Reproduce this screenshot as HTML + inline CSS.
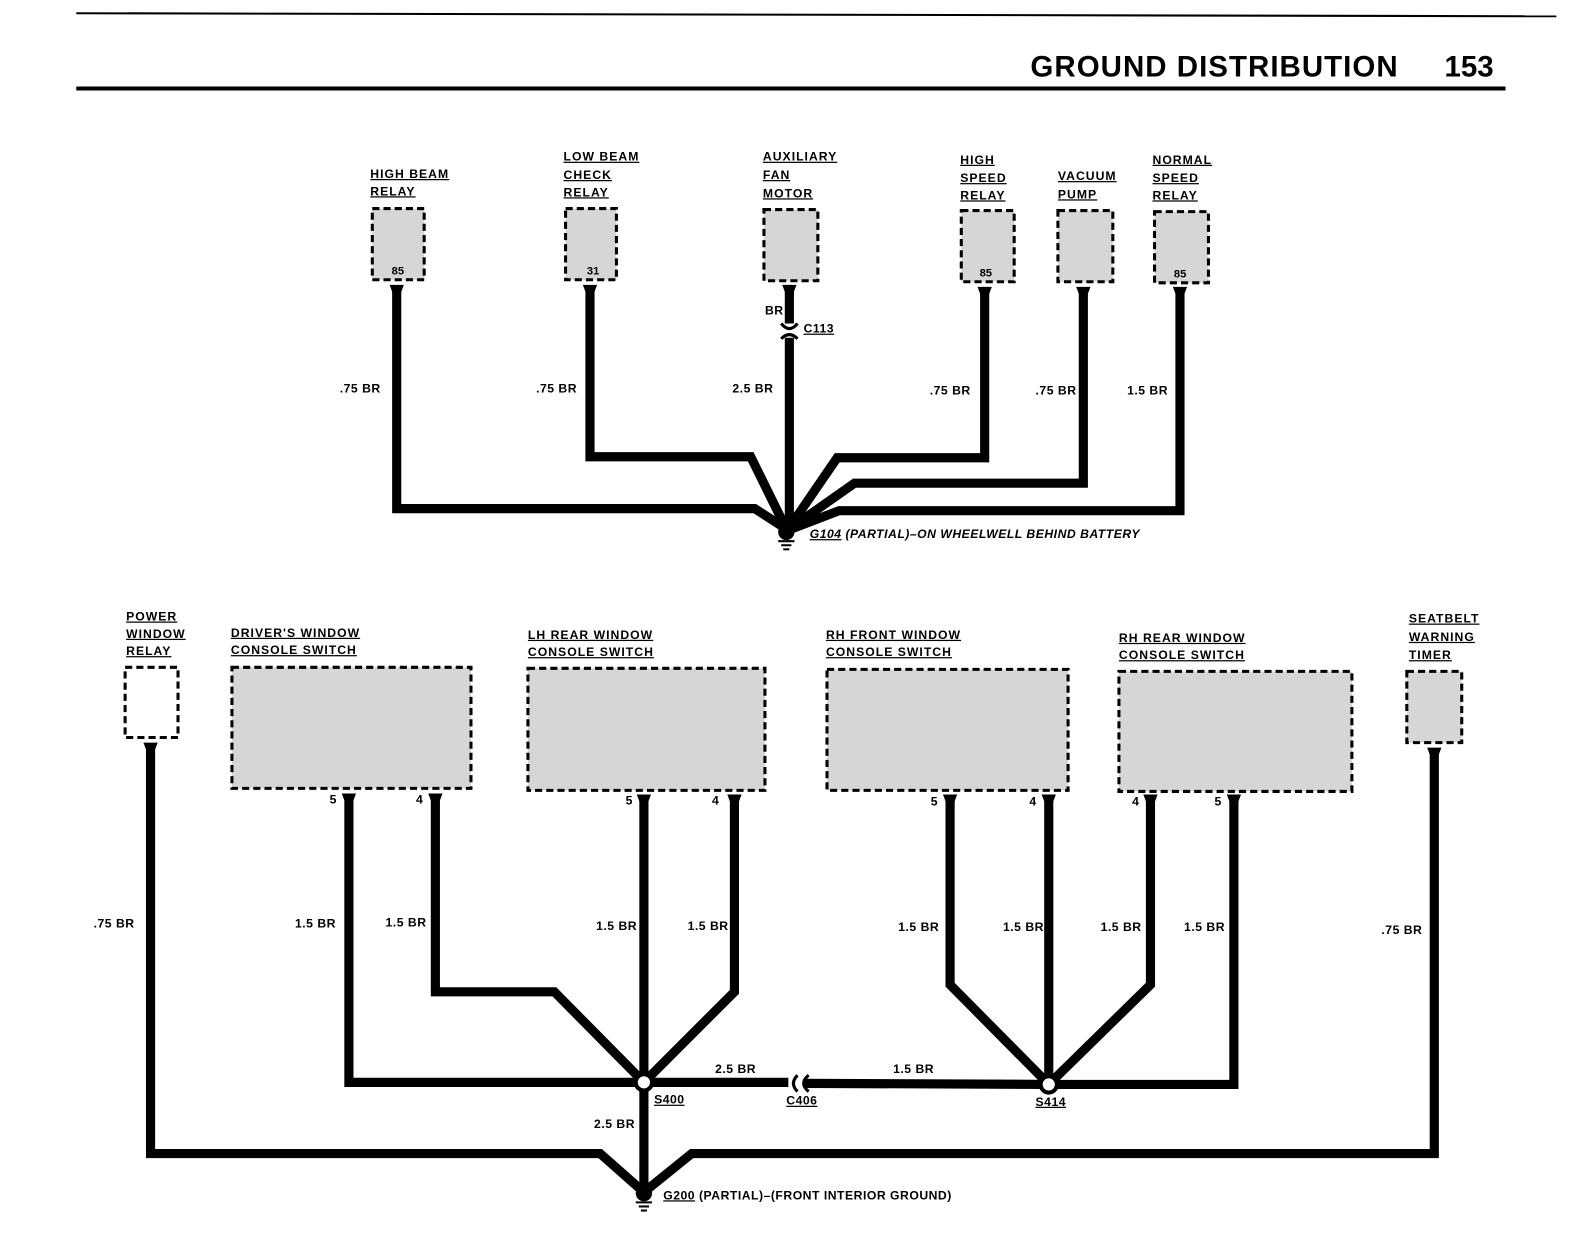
<!DOCTYPE html>
<html><head><meta charset="utf-8"><style>
html,body{margin:0;padding:0;background:#fff;}
svg{display:block;}
text{font-family:"Liberation Sans",sans-serif;font-weight:bold;fill:#000;}
.l{font-size:12px;letter-spacing:1px;text-decoration:underline;}
.w{font-size:12px;letter-spacing:0.5px;}
.p{font-size:11px;}
</style></head><body>
<svg width="1595" height="1238" viewBox="0 0 1568 1217" preserveAspectRatio="none" xmlns="http://www.w3.org/2000/svg">
<line x1="75" y1="13" x2="1530" y2="16" stroke="#000" stroke-width="2"/>
<line x1="75" y1="87" x2="1480" y2="87" stroke="#000" stroke-width="4"/>
<text x="1013" y="75" style="font-size:29px;letter-spacing:1px">GROUND DISTRIBUTION</text>
<text x="1420" y="75" style="font-size:29px">153</text>

<g fill="#d6d6d6" stroke="#000" stroke-width="3" stroke-dasharray="7,4">
<rect x="366" y="205" width="51" height="70"/>
<rect x="556" y="205" width="50" height="70"/>
<rect x="751" y="206" width="53" height="70"/>
<rect x="945" y="207" width="52" height="70"/>
<rect x="1040" y="207" width="54" height="70"/>
<rect x="1135" y="208" width="53" height="70"/>
<rect x="123" y="656" width="52" height="69" fill="#fff"/>
<rect x="228" y="656" width="235" height="119"/>
<rect x="519" y="657" width="233" height="120"/>
<rect x="813" y="658" width="237" height="119"/>
<rect x="1100" y="660" width="229" height="118"/>
<rect x="1383" y="660" width="54" height="70"/>
</g>
<text class="p" x="385" y="270">85</text>
<text class="p" x="577" y="270">31</text>
<text class="p" x="963" y="272">85</text>
<text class="p" x="1154" y="273">85</text>

<g class="l">
<text x="364" y="175">HIGH BEAM</text><text x="364" y="192">RELAY</text>
<text x="554" y="158">LOW BEAM</text><text x="554" y="176">CHECK</text><text x="554" y="193">RELAY</text>
<text x="750" y="158">AUXILIARY</text><text x="750" y="176">FAN</text><text x="750" y="194">MOTOR</text>
<text x="944" y="161">HIGH</text><text x="944" y="179">SPEED</text><text x="944" y="196">RELAY</text>
<text x="1040" y="177">VACUUM</text><text x="1040" y="195">PUMP</text>
<text x="1133" y="161">NORMAL</text><text x="1133" y="179">SPEED</text><text x="1133" y="196">RELAY</text>
<text x="124" y="610">POWER</text><text x="124" y="627">WINDOW</text><text x="124" y="644">RELAY</text>
<text x="227" y="626">DRIVER'S WINDOW</text><text x="227" y="643">CONSOLE SWITCH</text>
<text x="519" y="628">LH REAR WINDOW</text><text x="519" y="645">CONSOLE SWITCH</text>
<text x="812" y="628">RH FRONT WINDOW</text><text x="812" y="645">CONSOLE SWITCH</text>
<text x="1100" y="631">RH REAR WINDOW</text><text x="1100" y="648">CONSOLE SWITCH</text>
<text x="1385" y="612">SEATBELT</text><text x="1385" y="630">WARNING</text><text x="1385" y="648">TIMER</text>
</g>

<g fill="none" stroke="#000" stroke-width="9" stroke-linejoin="miter">
<polyline points="390,285 390,500 742,500 773,520"/>
<polyline points="580,285 580,449 738,449 773,520"/>
<polyline points="776,285 776,318"/>
<polyline points="776,332 776,520"/>
<polyline points="968,285 968,450 823,450 775,520"/>
<polyline points="1065,285 1065,475 840,475 776,520"/>
<polyline points="1160,285 1160,502 825,502 778,520"/>
<polyline points="343,785 343,1064 633,1064"/>
<polyline points="428,785 428,975 545,975 633,1064"/>
<polyline points="633,785 633,1172"/>
<polyline points="722,785 722,975 633,1064"/>
<polyline points="633,1064 775,1064"/>
<polyline points="790,1065 1031,1066"/>
<polyline points="934,785 934,968 1031,1066"/>
<polyline points="1031,785 1031,1066"/>
<polyline points="1131,785 1131,968 1031,1066"/>
<polyline points="1213,785 1213,1066 1031,1066"/>
<polyline points="148,735 148,1134 590,1134 633,1172"/>
<polyline points="1410,740 1410,1134 680,1134 633,1172"/>
</g>
<g fill="#000">
<path d="M383,280 L397,280 L394,288 L386,288Z"/>
<path d="M573,280 L587,280 L584,288 L576,288Z"/>
<path d="M769,280 L783,280 L780,288 L772,288Z"/>
<path d="M961,282 L975,282 L972,290 L964,290Z"/>
<path d="M1058,282 L1072,282 L1069,290 L1061,290Z"/>
<path d="M1153,282 L1167,282 L1164,290 L1156,290Z"/>
<path d="M141,730 L155,730 L152,738 L144,738Z"/>
<path d="M1403,735 L1417,735 L1414,743 L1406,743Z"/>
<path d="M336,780 L350,780 L347,788 L339,788Z"/>
<path d="M421,780 L435,780 L432,788 L424,788Z"/>
<path d="M626,781 L640,781 L637,789 L629,789Z"/>
<path d="M715,781 L729,781 L726,789 L718,789Z"/>
<path d="M927,781 L941,781 L938,789 L930,789Z"/>
<path d="M1024,781 L1038,781 L1035,789 L1027,789Z"/>
<path d="M1124,781 L1138,781 L1135,789 L1127,789Z"/>
<path d="M1206,781 L1220,781 L1217,789 L1209,789Z"/>
</g>
<path d="M768,318 Q776,328 784,318" fill="none" stroke="#000" stroke-width="3"/>
<path d="M768,333 Q776,325 784,333" fill="none" stroke="#000" stroke-width="3"/>
<path d="M784,1057 Q776,1065 784,1073" fill="none" stroke="#000" stroke-width="3"/>
<path d="M795,1057 Q785,1065 795,1073" fill="none" stroke="#000" stroke-width="3"/>
<circle cx="773" cy="523" r="8" fill="#000"/>
<line x1="765" y1="532" x2="781" y2="532" stroke="#000" stroke-width="2"/>
<line x1="768" y1="536" x2="778" y2="536" stroke="#000" stroke-width="2"/>
<line x1="770" y1="540" x2="776" y2="540" stroke="#000" stroke-width="2"/>
<circle cx="633" cy="1173" r="8" fill="#000"/>
<line x1="625" y1="1182" x2="641" y2="1182" stroke="#000" stroke-width="2"/>
<line x1="628" y1="1186" x2="638" y2="1186" stroke="#000" stroke-width="2"/>
<line x1="630" y1="1190" x2="636" y2="1190" stroke="#000" stroke-width="2"/>
<circle cx="633" cy="1064" r="8" fill="#fff" stroke="#000" stroke-width="4"/>
<circle cx="1031" cy="1066" r="8" fill="#fff" stroke="#000" stroke-width="4"/>

<g class="w">
<text x="752" y="309">BR</text>
<text x="790" y="327" style="text-decoration:underline">C113</text>
<text x="334" y="386">.75  BR</text>
<text x="527" y="386">.75  BR</text>
<text x="720" y="386">2.5  BR</text>
<text x="914" y="388">.75  BR</text>
<text x="1018" y="388">.75 BR</text>
<text x="1108" y="388">1.5  BR</text>
<text x="796" y="529" style="font-style:italic"><tspan style="text-decoration:underline">G104</tspan> (PARTIAL)–ON WHEELWELL BEHIND BATTERY</text>
<text x="324" y="790">5</text><text x="409" y="790">4</text>
<text x="615" y="791">5</text><text x="700" y="791">4</text>
<text x="915" y="792">5</text><text x="1012" y="792">4</text>
<text x="1113" y="792">4</text><text x="1194" y="792">5</text>
<text x="92" y="912">.75 BR</text>
<text x="290" y="912">1.5 BR</text>
<text x="379" y="911">1.5 BR</text>
<text x="586" y="914">1.5 BR</text>
<text x="676" y="914">1.5 BR</text>
<text x="883" y="915">1.5 BR</text>
<text x="986" y="915">1.5 BR</text>
<text x="1082" y="915">1.5 BR</text>
<text x="1164" y="915">1.5 BR</text>
<text x="1358" y="918">.75 BR</text>
<text x="703" y="1055">2.5 BR</text>
<text x="878" y="1055">1.5 BR</text>
<text x="643" y="1085" style="text-decoration:underline">S400</text>
<text x="773" y="1086" style="text-decoration:underline">C406</text>
<text x="1018" y="1087" style="text-decoration:underline">S414</text>
<text x="584" y="1109">2.5 BR</text>
<text x="652" y="1179"><tspan style="text-decoration:underline">G200</tspan> (PARTIAL)–(FRONT INTERIOR GROUND)</text>
</g>
</svg>
</body></html>
